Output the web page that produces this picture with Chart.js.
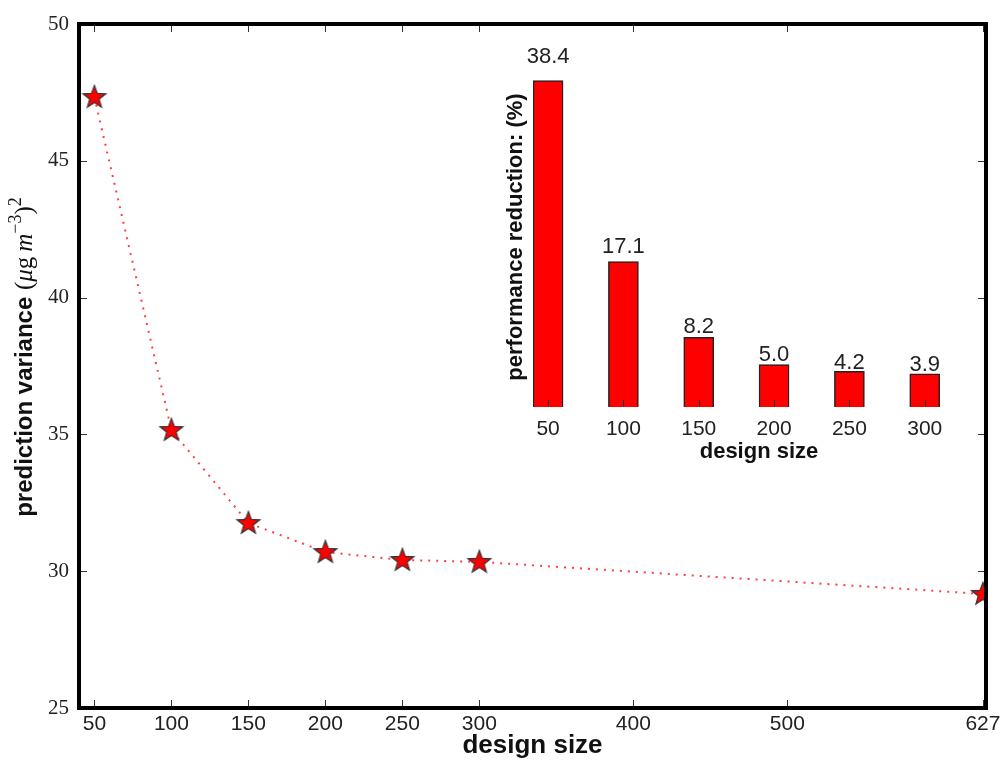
<!DOCTYPE html>
<html>
<head>
<meta charset="utf-8">
<script src="https://cdn.jsdelivr.net/npm/chart.js@4.4.1/dist/chart.umd.min.js"></script>
<style>
  body { margin: 0; background: #fff; }
  #wrap { position: relative; width: 1000px; height: 761px; }
  #mainChart { position: absolute; left: 0; top: 0; }
  #insetChart { position: absolute; left: 490px; top: 30px; }
</style>
</head>
<body>
<div id="wrap">
  <canvas id="mainChart" width="1000" height="761"></canvas>
  <canvas id="insetChart" width="505" height="440"></canvas>
</div>
<script>
// main plot data
var designSizes = [50, 100, 150, 200, 250, 300, 627];
var predVariance = [47.33, 35.16, 31.76, 30.70, 30.41, 30.34, 29.17];
var xTickValues = [50, 100, 150, 200, 250, 300, 400, 500, 627];
var yTickValues = [25, 30, 35, 40, 45, 50];

// inset data
var insetSizes = [50, 100, 150, 200, 250, 300];
var reduction = [38.4, 17.1, 8.2, 5.0, 4.2, 3.9];

var SANS = '"Liberation Sans", Arial, sans-serif';
var SERIF = '"Liberation Serif", "Times New Roman", serif';

// five point star marker
function makeStar() {
    var c = document.createElement('canvas');
    c.width = 28; c.height = 28;
    var g = c.getContext('2d');
    g.beginPath();
    for (var i = 0; i < 10; i++) {
        var r = i % 2 === 0 ? 12 : 5;
        var a = -Math.PI / 2 + i * Math.PI / 5;
        var px = 14 + r * Math.cos(a), py = 14.5 + r * Math.sin(a);
        if (i === 0) g.moveTo(px, py); else g.lineTo(px, py);
    }
    g.closePath();
    g.fillStyle = '#ff0000';
    g.fill();
    g.lineWidth = 1.2;
    g.strokeStyle = '#333';
    g.stroke();
    return c;
}

var framePlugin = {
    id: 'frame',
    afterDraw: function (chart) {
        var ctx = chart.ctx, a = chart.chartArea;
        var xs = chart.scales.x, ys = chart.scales.y;
        ctx.save();
        ctx.strokeStyle = '#333';
        ctx.lineWidth = 1;
        ctx.beginPath();
        xTickValues.forEach(function (v) {
            var px = Math.round(xs.getPixelForValue(v)) + 0.5;
            ctx.moveTo(px, a.bottom); ctx.lineTo(px, a.bottom - 8);
            ctx.moveTo(px, a.top); ctx.lineTo(px, a.top + 8);
        });
        yTickValues.forEach(function (v) {
            var py = Math.round(ys.getPixelForValue(v)) + 0.5;
            ctx.moveTo(a.left, py); ctx.lineTo(a.left + 8, py);
            ctx.moveTo(a.right, py); ctx.lineTo(a.right - 8, py);
        });
        ctx.stroke();
        ctx.strokeStyle = '#000';
        ctx.lineWidth = 4;
        ctx.strokeRect(a.left, a.top, a.right - a.left, a.bottom - a.top);

        // y axis label: bold words + math part
        ctx.translate(25, 357);
        ctx.rotate(-Math.PI / 2);
        ctx.fillStyle = '#111';
        ctx.textBaseline = 'middle';
        var parts = [
            { t: 'prediction variance ', f: 'bold 24px ' + SANS, dy: 0 },
            { t: '(', f: '25px ' + SERIF, dy: 0 },
            { t: '\u03bc', f: 'italic 25px ' + SERIF, dy: 0 },
            { t: 'g\u2009', f: '25px ' + SERIF, dy: 0 },
            { t: 'm', f: 'italic 25px ' + SERIF, dy: 0 },
            { t: '\u22123', f: '18px ' + SERIF, dy: -9 },
            { t: ')', f: '25px ' + SERIF, dy: 0 },
            { t: '2', f: '18px ' + SERIF, dy: -9 }
        ];
        var total = 0;
        parts.forEach(function (p) { ctx.font = p.f; p.w = ctx.measureText(p.t).width; total += p.w; });
        var x = -total / 2;
        parts.forEach(function (p) {
            ctx.font = p.f;
            ctx.fillText(p.t, x, p.dy);
            x += p.w;
        });
        ctx.restore();
    }
};

var mainChart = new Chart(document.getElementById('mainChart'), {
    type: 'line',
    data: {
        datasets: [{
            data: designSizes.map(function (s, i) { return { x: s, y: predVariance[i] }; }),
            borderColor: 'rgba(255,30,30,0.85)',
            borderWidth: 2,
            borderDash: [2, 6],
            tension: 0,
            fill: false,
            pointStyle: makeStar(),
            pointRadius: 12
        }]
    },
    options: {
        responsive: false,
        animation: false,
        devicePixelRatio: 1,
        layout: { padding: { top: 24, right: 14, left: 0, bottom: 0 } },
        plugins: { legend: { display: false }, tooltip: { enabled: false } },
        scales: {
            x: {
                type: 'linear',
                min: 40,
                max: 629,
                afterBuildTicks: function (s) { s.ticks = xTickValues.map(function (v) { return { value: v }; }); },
                afterFit: function (s) { s.height = 53; s.paddingLeft = 0; s.paddingRight = 0; },
                grid: { display: false, drawTicks: false },
                border: { display: false },
                ticks: { color: '#222', font: { family: SANS, size: 21 }, padding: 4, maxRotation: 0, autoSkip: false },
                title: { display: true, text: 'design size', color: '#111', font: { family: SANS, size: 26, weight: 'bold' }, padding: { top: 0, bottom: 0 } }
            },
            y: {
                min: 25,
                max: 50,
                ticks: { stepSize: 5, color: '#222', font: { family: SERIF, size: 21 }, padding: 10 },
                afterFit: function (s) { s.width = 79; s.paddingTop = 0; s.paddingBottom = 0; },
                grid: { display: false, drawTicks: false },
                border: { display: false }
            }
        }
    },
    plugins: [framePlugin]
});

var insetPlugin = {
    id: 'insetDecor',
    afterDatasetsDraw: function (chart) {
        var ctx = chart.ctx, a = chart.chartArea;
        var xs = chart.scales.x, ys = chart.scales.y;
        ctx.save();
        // small tick marks at the bar centres
        ctx.strokeStyle = '#333';
        ctx.lineWidth = 1;
        ctx.beginPath();
        insetSizes.forEach(function (v) {
            var px = Math.round(xs.getPixelForValue(v)) + 0.5;
            ctx.moveTo(px, a.bottom); ctx.lineTo(px, a.bottom - 7);
        });
        ctx.stroke();
        // value labels above bars
        ctx.fillStyle = '#222';
        ctx.font = '22px ' + SANS;
        ctx.textAlign = 'center';
        ctx.textBaseline = 'alphabetic';
        reduction.forEach(function (v, i) {
            ctx.fillText(v.toFixed(1), xs.getPixelForValue(insetSizes[i]), ys.getPixelForValue(v * 1.05) - 1);
        });
        // y label
        ctx.translate(26, 207);
        ctx.rotate(-Math.PI / 2);
        ctx.fillStyle = '#111';
        ctx.font = 'bold 22px ' + SANS;
        ctx.textBaseline = 'middle';
        ctx.textAlign = 'center';
        ctx.fillText('performance reduction: (%)', 0, 0);
        ctx.restore();
    }
};

var insetChart = new Chart(document.getElementById('insetChart'), {
    type: 'bar',
    data: {
        datasets: [{
            data: insetSizes.map(function (s, i) { return { x: s, y: reduction[i] }; }),
            backgroundColor: '#ff0000',
            borderColor: '#222',
            borderWidth: 1.5,
            barThickness: 30
        }]
    },
    options: {
        responsive: false,
        animation: false,
        devicePixelRatio: 1,
        layout: { padding: { top: 37, right: 10, left: 43, bottom: 0 } },
        plugins: { legend: { display: false }, tooltip: { enabled: false } },
        scales: {
            x: {
                type: 'linear',
                offset: false,
                min: 40,
                max: 340,
                afterBuildTicks: function (s) { s.ticks = insetSizes.map(function (v) { return { value: v }; }); },
                afterFit: function (s) { s.height = 63; s.paddingLeft = 0; s.paddingRight = 0; },
                grid: { display: false, drawTicks: false },
                border: { display: false },
                ticks: { color: '#222', font: { family: SANS, size: 21 }, padding: 10, maxRotation: 0, autoSkip: false },
                title: { display: true, text: 'design size', color: '#111', font: { family: SANS, size: 22, weight: 'bold' }, padding: { top: 0, bottom: 5 } }
            },
            y: {
                display: false,
                min: 0,
                max: 40
            }
        }
    },
    plugins: [insetPlugin]
});
</script>
</body>
</html>
